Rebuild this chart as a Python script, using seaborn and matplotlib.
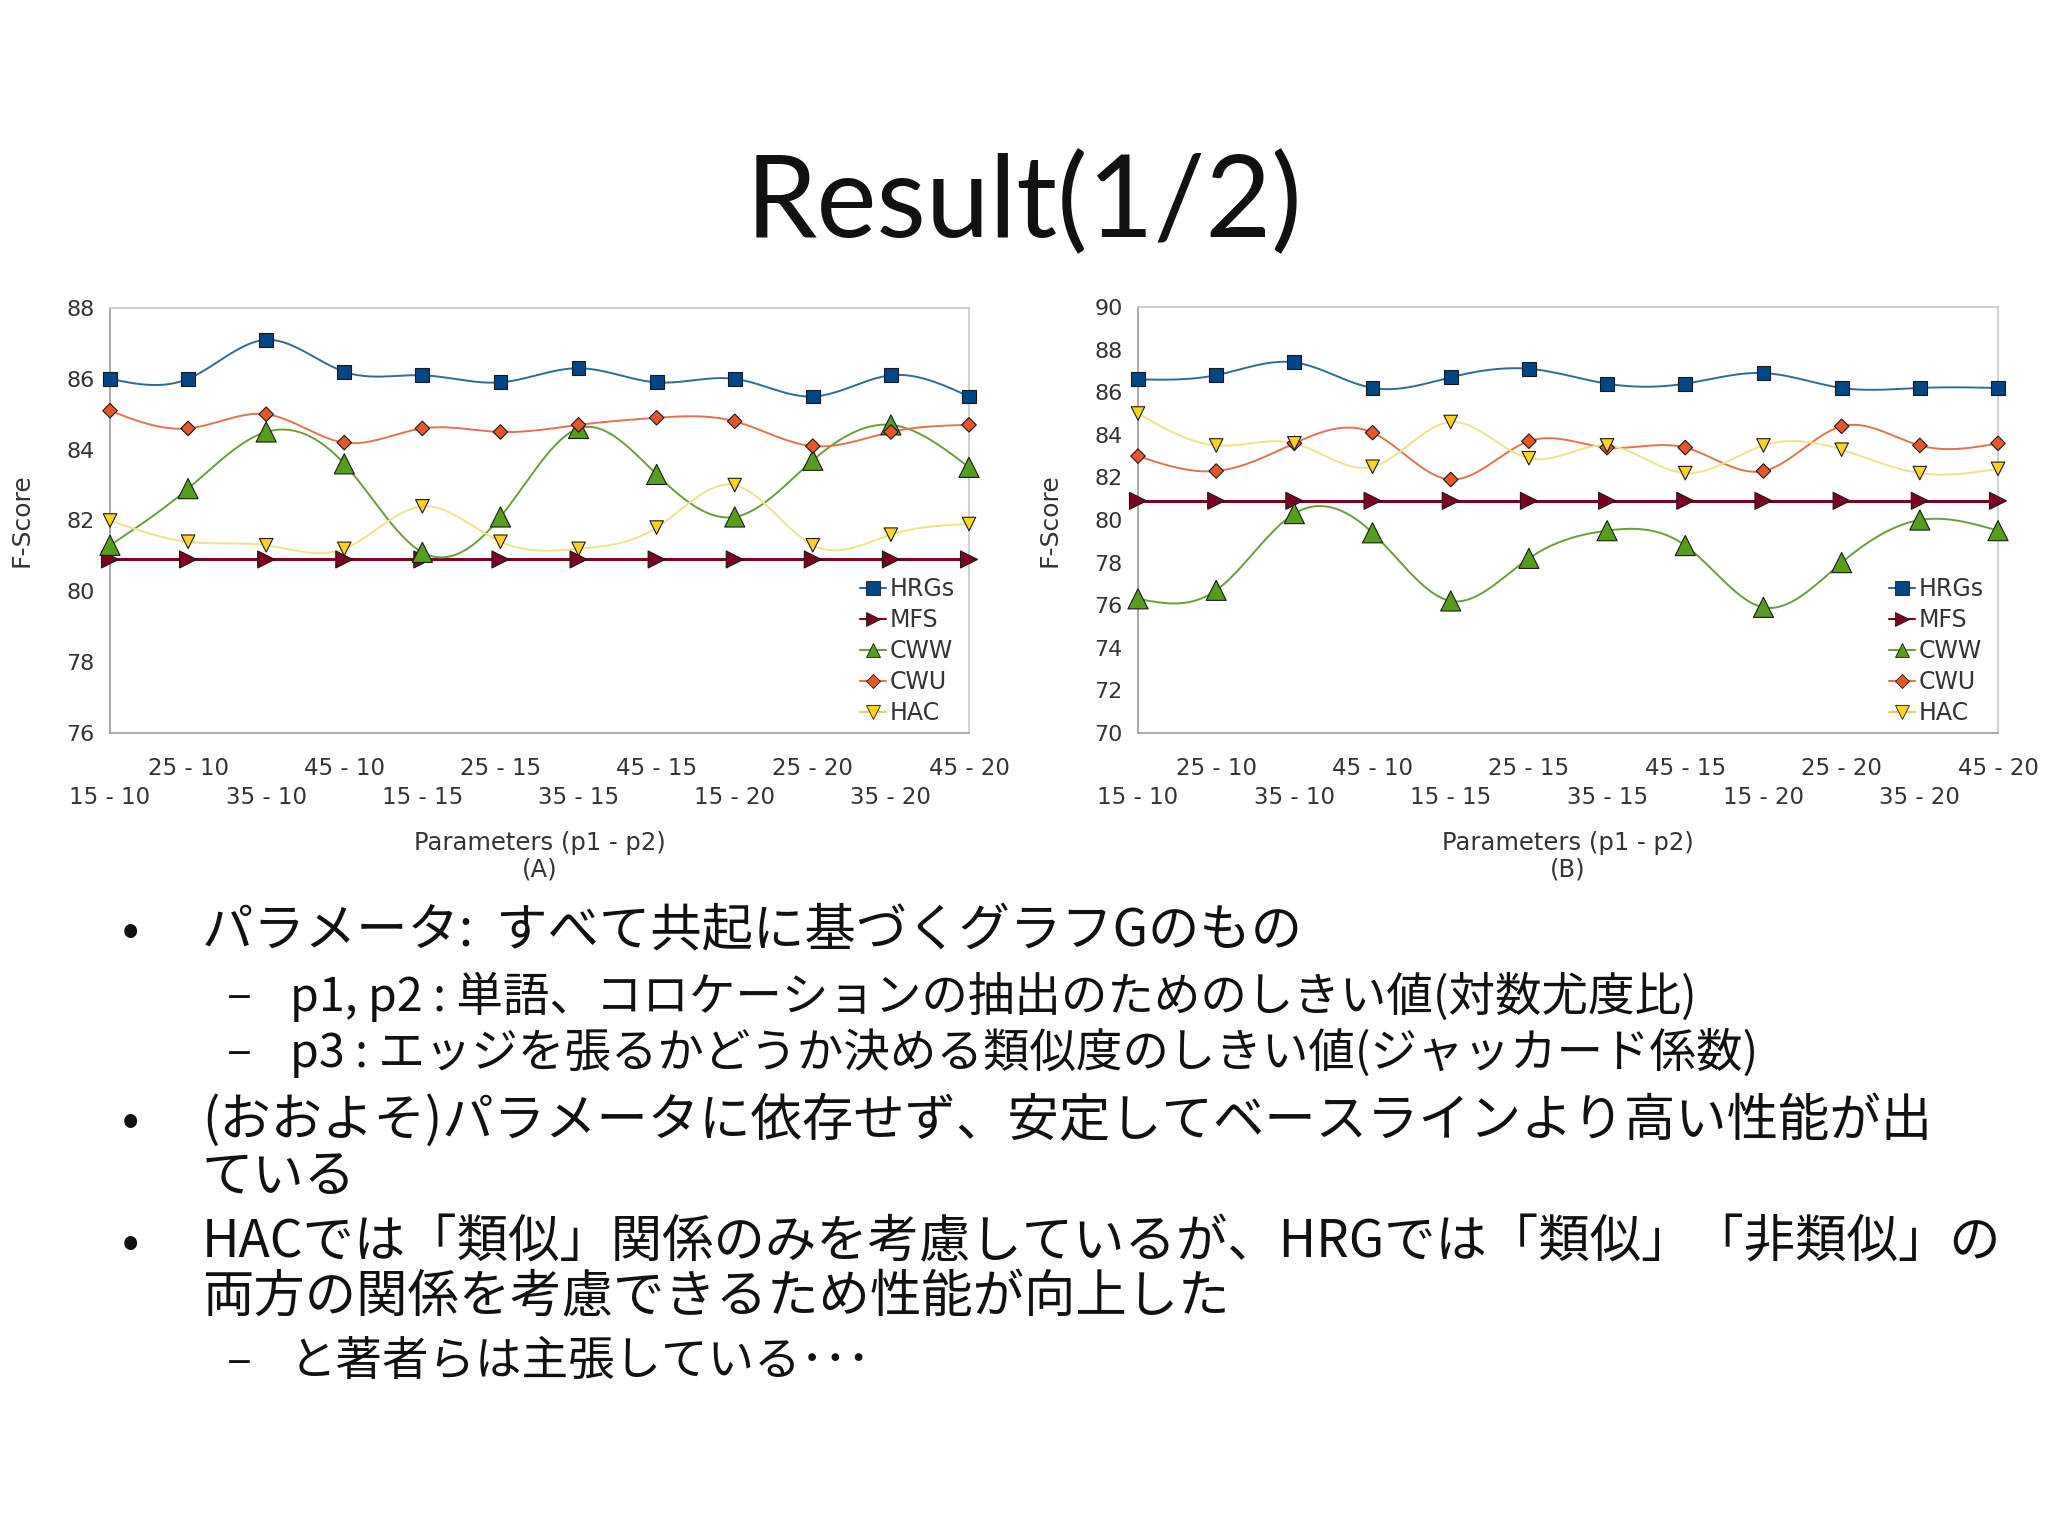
import numpy as np
import pandas as pd
import matplotlib.pyplot as plt
import seaborn as sns
from matplotlib.lines import Line2D

# parameter combinations (p1 - p2)
params = ['15 - 10', '25 - 10', '35 - 10', '45 - 10',
          '15 - 15', '25 - 15', '35 - 15', '45 - 15',
          '15 - 20', '25 - 20', '35 - 20', '45 - 20']
methods = ['HRGs', 'MFS', 'CWW', 'CWU', 'HAC']

# chart (A)
hrgs_a = [86.0, 86.0, 87.1, 86.2, 86.1, 85.9, 86.3, 85.9, 86.0, 85.5, 86.1, 85.5]
mfs_a = [80.9, 80.9, 80.9, 80.9, 80.9, 80.9, 80.9, 80.9, 80.9, 80.9, 80.9, 80.9]
cww_a = [81.3, 82.9, 84.5, 83.6, 81.1, 82.1, 84.6, 83.3, 82.1, 83.7, 84.7, 83.5]
cwu_a = [85.1, 84.6, 85.0, 84.2, 84.6, 84.5, 84.7, 84.9, 84.8, 84.1, 84.5, 84.7]
hac_a = [82.0, 81.4, 81.3, 81.2, 82.4, 81.4, 81.2, 81.8, 83.0, 81.3, 81.6, 81.9]

# chart (B)
hrgs_b = [86.6, 86.8, 87.4, 86.2, 86.7, 87.1, 86.4, 86.4, 86.9, 86.2, 86.2, 86.2]
mfs_b = [80.9, 80.9, 80.9, 80.9, 80.9, 80.9, 80.9, 80.9, 80.9, 80.9, 80.9, 80.9]
cww_b = [76.3, 76.7, 80.3, 79.4, 76.2, 78.2, 79.5, 78.8, 75.9, 78.0, 80.0, 79.5]
cwu_b = [83.0, 82.3, 83.6, 84.1, 81.9, 83.7, 83.4, 83.4, 82.3, 84.4, 83.5, 83.6]
hac_b = [85.0, 83.5, 83.6, 82.5, 84.6, 82.9, 83.5, 82.2, 83.5, 83.3, 82.2, 82.4]

line_colors = {'HRGs': '#2f6a9c', 'MFS': '#7e0021', 'CWW': '#6a9e3a',
               'CWU': '#e4734c', 'HAC': '#efe38a'}
fill_colors = {'HRGs': '#004586', 'MFS': '#7e0021', 'CWW': '#579d1c',
               'CWU': '#e8562a', 'HAC': '#ffd320'}
markers = {'HRGs': 's', 'MFS': '>', 'CWW': '^', 'CWU': 'D', 'HAC': 'v'}
sizes = {'HRGs': 100, 'MFS': 150, 'CWW': 210, 'CWU': 55, 'HAC': 95}


def spline(xs, ys, n=24):
    # natural cubic spline, only to draw the curve smooth like the original
    x = np.asarray(xs, float)
    y = np.asarray(ys, float)
    h = np.diff(x)
    m = len(x)
    A = np.zeros((m, m))
    r = np.zeros(m)
    A[0, 0] = 1
    A[-1, -1] = 1
    for i in range(1, m - 1):
        A[i, i - 1] = h[i - 1]
        A[i, i] = 2 * (h[i - 1] + h[i])
        A[i, i + 1] = h[i]
        r[i] = 3 * ((y[i + 1] - y[i]) / h[i] - (y[i] - y[i - 1]) / h[i - 1])
    c = np.linalg.solve(A, r)
    out_x, out_y = [], []
    for i in range(m - 1):
        b = (y[i + 1] - y[i]) / h[i] - h[i] * (2 * c[i] + c[i + 1]) / 3
        d = (c[i + 1] - c[i]) / (3 * h[i])
        t = np.linspace(0, h[i], n, endpoint=(i == m - 2))
        out_x.extend(x[i] + t)
        out_y.extend(y[i] + b * t + c[i] * t ** 2 + d * t ** 3)
    return out_x, out_y


def draw(ax, series, ylim, yticks, tag):
    pos = np.arange(len(params))
    curves, points = [], []
    for name, vals in zip(methods, series):
        sx, sy = spline(pos, vals)
        curves.append(pd.DataFrame({'pos': sx, 'score': sy, 'method': name}))
        points.append(pd.DataFrame({'pos': pos, 'score': vals, 'method': name}))
    curves = pd.concat(curves)
    points = pd.concat(points)

    sns.lineplot(data=curves, x='pos', y='score', hue='method', palette=line_colors,
                 estimator=None, sort=False, linewidth=1.4, legend=False, ax=ax)
    for ln in ax.lines:
        if ln.get_color() == line_colors['MFS']:
            ln.set_linewidth(2.2)
    sns.scatterplot(data=points, x='pos', y='score', hue='method', palette=fill_colors,
                    style='method', markers=markers, size='method', sizes=sizes,
                    edgecolor='#1a1a1a', linewidth=0.8, legend=False, zorder=5,
                    clip_on=False, ax=ax)

    ax.set_xlim(0, len(params) - 1)
    ax.set_ylim(*ylim)
    ax.set_yticks(yticks)
    ax.set_xticks(pos)
    labels = [p + '\n' if i % 2 else '\n' + p for i, p in enumerate(params)]
    ax.set_xticklabels(labels, fontsize=16.5, color='#333333', linespacing=1.35)
    ax.tick_params(axis='y', labelsize=16, labelcolor='#333333', length=5,
                   color='#999999', pad=6)
    ax.tick_params(axis='x', length=8, color='#999999', pad=9)
    ax.set_xlabel('Parameters (p1 - p2)\n' + tag, fontsize=17.5, color='#333333',
                  labelpad=16, linespacing=1.1)
    ax.set_ylabel('F-Score', fontsize=18, color='#333333', labelpad=24)
    for side in ['top', 'right']:
        ax.spines[side].set_color('#c8c8c8')
    for side in ['left', 'bottom']:
        ax.spines[side].set_color('#999999')
    for sp in ax.spines.values():
        sp.set_linewidth(1.2)

    handles = [Line2D([0], [0], color=line_colors[m] if m != 'HAC' else '#e0d060',
                      marker=markers[m], markerfacecolor=fill_colors[m],
                      markeredgecolor='#1a1a1a', markeredgewidth=0.6,
                      markersize=10 if m != 'CWU' else 7.5, linewidth=1.5)
               for m in methods]
    ax.legend(handles, methods, loc='lower right', bbox_to_anchor=(1.0, -0.015),
              frameon=False, fontsize=17, handlelength=1.1, handletextpad=0.15,
              labelspacing=0.3, borderaxespad=0.2, labelcolor='#333333')


sns.set_style('white')
plt.rcParams['font.family'] = ['DejaVu Sans', 'Noto Sans CJK JP']

fig = plt.figure(figsize=(20.48, 15.36), dpi=100)
ax_a = fig.add_axes([110 / 2048, 1 - 733 / 1536, 859 / 2048, 425 / 1536])
ax_b = fig.add_axes([1138 / 2048, 1 - 733 / 1536, 860 / 2048, 426 / 1536])

draw(ax_a, [hrgs_a, mfs_a, cww_a, cwu_a, hac_a], (76, 88), range(76, 89, 2), '(A)')
draw(ax_b, [hrgs_b, mfs_b, cww_b, cwu_b, hac_b], (70, 90), range(70, 91, 2), '(B)')

fig.text(1024 / 2048, 1 - 204 / 1536, 'Result(1/2)', family=['Lato', 'DejaVu Sans'],
         fontsize=82, ha='center', va='center', color='#111111')

jp = ['Noto Sans CJK JP', 'DejaVu Sans']
body = [
    (131, 202, 931, 37, '•', 'パラメータ:  すべて共起に基づくグラフGのもの'),
    (239, 290, 997, 33.5, '–', 'p1, p2 : 単語、コロケーションの抽出のためのしきい値(対数尤度比)'),
    (239, 290, 1053, 33.5, '–', 'p3 : エッジを張るかどうか決める類似度のしきい値(ジャッカード係数)'),
    (131, 202, 1121, 37, '•', '(おおよそ)パラメータに依存せず、安定してベースラインより高い性能が出'),
    (None, 202, 1177, 37, '', 'ている'),
    (131, 202, 1243, 37, '•', 'HACでは「類似」関係のみを考慮しているが、HRGでは「類似」「非類似」の'),
    (None, 202, 1298, 37, '', '両方の関係を考慮できるため性能が向上した'),
    (239, 290, 1362, 33.5, '–', 'と著者らは主張している･･･'),
]
for bx, tx, ty, size, mark, txt in body:
    if bx is not None:
        fig.text(bx / 2048, 1 - ty / 1536, mark, family=jp, fontsize=size,
                 ha='center', va='center', color='#111111')
    fig.text(tx / 2048, 1 - ty / 1536, txt, family=jp, fontsize=size,
             ha='left', va='center', color='#111111')

fig.savefig('out.png', dpi=100)
